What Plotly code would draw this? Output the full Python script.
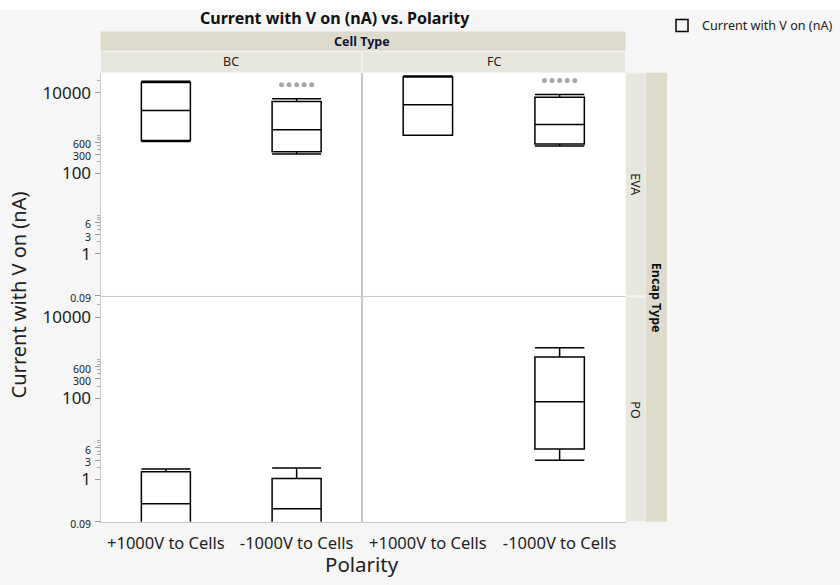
import numpy as np
import plotly.graph_objects as go

W, H = 840, 585

# ---------------- data ----------------
polarity = ["+1000V to Cells", "-1000V to Cells"]
cell_types = ["BC", "FC"]
encap_types = ["EVA", "PO"]

# EVA / BC
eva_bc_pos = [0, 1]
eva_bc_low = [620, 302]
eva_bc_q1 = [655, 344]
eva_bc_med = [3690, 1217]
eva_bc_q3 = [18300, 6120]
eva_bc_high = [19500, 7130]
eva_bc_out_pos = [1, 1, 1, 1, 1]
eva_bc_out = [15900, 15900, 15900, 15900, 15900]

# EVA / FC
eva_fc_pos = [0, 1]
eva_fc_low = [883, 483]
eva_fc_q1 = [883, 541]
eva_fc_med = [5080, 1645]
eva_fc_q3 = [25100, 7850]
eva_fc_high = [26500, 9100]
eva_fc_out_pos = [1, 1, 1, 1, 1]
eva_fc_out = [20500, 20500, 20500, 20500, 20500]

# PO / BC
po_bc_pos = [0, 1]
po_bc_low = [0.02, 0.02]
po_bc_q1 = [0.04, 0.035]
po_bc_med = [0.251, 0.19]
po_bc_q3 = [1.55, 1.05]
po_bc_high = [1.81, 1.91]

# PO / FC
po_fc_pos = [1]
po_fc_low = [2.95]
po_fc_q1 = [5.6]
po_fc_med = [82.6]
po_fc_q3 = [1047]
po_fc_high = [1770]

y_tickvals = [0.09, 1, 3, 6, 100, 300, 600, 10000]
y_ticktext = ["0.09", "1", "3", "6", "100", "300", "600", "10000"]
y_small = {"0.09", "3", "6", "300", "600"}
y_minor = [2, 4, 5, 7, 8, 9, 200, 400, 500, 700, 800, 900, 20000]

# ---------------- helpers ----------------
def px(x):
    return x / W

def py(y):
    return 1 - y / H

FONT = "Noto Sans"
LINE = "#c8c8c8"

fig = go.Figure()

panels = [
    ("x", "y", eva_bc_pos, eva_bc_low, eva_bc_q1, eva_bc_med, eva_bc_q3, eva_bc_high, True),
    ("x2", "y2", eva_fc_pos, eva_fc_low, eva_fc_q1, eva_fc_med, eva_fc_q3, eva_fc_high, False),
    ("x3", "y3", po_bc_pos, po_bc_low, po_bc_q1, po_bc_med, po_bc_q3, po_bc_high, False),
    ("x4", "y4", po_fc_pos, po_fc_low, po_fc_q1, po_fc_med, po_fc_q3, po_fc_high, False),
]
for xa, ya, pos, lo, q1, med, q3, hi, leg in panels:
    fig.add_trace(go.Box(
        x=pos, q1=q1, median=med, q3=q3, lowerfence=lo, upperfence=hi,
        xaxis=xa, yaxis=ya, width=0.375, whiskerwidth=1,
        line=dict(color="black", width=1.5), fillcolor="rgba(255,255,255,0)",
        boxpoints=False, name="Current with V on (nA)", showlegend=leg,
        hoverinfo="skip",
    ))

jit = np.linspace(-0.115, 0.115, 5)
for xa, ya, opos, ovals in [("x", "y", eva_bc_out_pos, eva_bc_out),
                             ("x2", "y2", eva_fc_out_pos, eva_fc_out)]:
    fig.add_trace(go.Scatter(
        x=np.array(opos) + jit, y=ovals, xaxis=xa, yaxis=ya, mode="markers",
        marker=dict(color="#a8a8a8", size=5), showlegend=False, hoverinfo="skip",
    ))

# ---------------- layout ----------------
x_dom = {"BC": [px(100.5), px(362)], "FC": [px(362), px(625.5)]}
y_dom = {"EVA": [py(300.5), py(74)], "PO": [py(530), py(301.5)]}
yr = [np.log10(0.09), 4.5]

def xaxis(dom, anchor, labels):
    return dict(domain=dom, anchor=anchor, range=[-0.5, 1.5], tickmode="array",
                tickvals=[0, 1], ticktext=polarity, showticklabels=labels,
                showline=True, mirror=True, linecolor=LINE, linewidth=1,
                showgrid=False, zeroline=False, ticks="", ticklabelstandoff=6,
                tickfont=dict(family=FONT, size=16.5, color="#222"))

ticktext_html = [
    (f'<span style="font-size:10.5px">{t}</span>' if t in y_small else t)
    for t in y_ticktext
]

def yaxis(dom, anchor, labels):
    d = dict(domain=dom, anchor=anchor, type="log", range=yr,
             showline=True, mirror=True, linecolor=LINE, linewidth=1,
             showgrid=False, zeroline=False)
    if labels:
        d.update(tickmode="array", tickvals=y_tickvals, ticktext=ticktext_html,
                 ticks="outside", ticklen=5, tickcolor="#999", tickwidth=1,
                 tickfont=dict(family=FONT, size=17, color="#222"),
                 minor=dict(tickmode="array", tickvals=y_minor, ticks="outside",
                            ticklen=3, tickcolor="#aaa", tickwidth=1))
    else:
        d.update(showticklabels=False, ticks="")
    return d

fig.update_layout(
    width=W, height=H, margin=dict(l=0, r=0, t=0, b=0),
    paper_bgcolor="#f6f6f6", plot_bgcolor="white",
    font=dict(family=FONT, color="#222"),
    xaxis=xaxis(x_dom["BC"], "y", False),
    xaxis2=xaxis(x_dom["FC"], "y2", False),
    xaxis3=xaxis(x_dom["BC"], "y3", True),
    xaxis4=xaxis(x_dom["FC"], "y4", True),
    yaxis=yaxis(y_dom["EVA"], "x", True),
    yaxis2=yaxis(y_dom["EVA"], "x2", False),
    yaxis3=yaxis(y_dom["PO"], "x3", True),
    yaxis4=yaxis(y_dom["PO"], "x4", False),
    legend=dict(x=px(662), y=py(11), xanchor="left", yanchor="top",
                bgcolor="rgba(0,0,0,0)", font=dict(family=FONT, size=12.6, color="#222"),
                itemwidth=30),
    showlegend=True,
)

shapes = []
# white top band
shapes.append(dict(type="rect", xref="paper", yref="paper", x0=0, x1=1, y0=py(10), y1=1,
                   fillcolor="white", line=dict(width=0), layer="below"))
# strips
strip_dark = "#dcdbcc"
strip_light = "#e8e7de"
shapes.append(dict(type="rect", xref="paper", yref="paper", x0=px(100.5), x1=px(625.5),
                   y0=py(52), y1=py(32), fillcolor=strip_dark, line=dict(width=0)))
for ct in cell_types:
    shapes.append(dict(type="rect", xref="paper", yref="paper", x0=x_dom[ct][0], x1=x_dom[ct][1],
                       y0=py(73.5), y1=py(52), fillcolor=strip_light,
                       line=dict(width=1, color="#f6f6f6")))
for et in encap_types:
    shapes.append(dict(type="rect", xref="paper", yref="paper", x0=px(625.5), x1=px(646),
                       y0=y_dom[et][0], y1=y_dom[et][1], fillcolor=strip_light,
                       line=dict(width=1, color="#f6f6f6")))
shapes.append(dict(type="rect", xref="paper", yref="paper", x0=px(646), x1=px(667),
                   y0=py(530), y1=py(74), fillcolor=strip_dark, line=dict(width=0)))
fig.update_layout(shapes=shapes)

def note(text, x, y, size, color="#222", angle=0):
    return dict(text=text, x=x, y=y, xref="paper", yref="paper", showarrow=False,
                xanchor="center", yanchor="middle", textangle=angle,
                font=dict(family=FONT, size=size, color=color))

ann = []
ann.append(note("<b>Current with V on (nA) vs. Polarity</b>", px(335), py(18), 16, "#111"))
ann.append(note("<b>Cell Type</b>", px(362), py(42), 12.5, "#141438"))
for ct in cell_types:
    ann.append(note(ct, sum(x_dom[ct]) / 2, py(62.5), 12.5))
for et in encap_types:
    ann.append(note(et, px(636), sum(y_dom[et]) / 2, 12.5, angle=90))
ann.append(note("<b>Encap Type</b>", px(656.5), py(302), 12.5, "#111", angle=90))
ann.append(note("Current with V on (nA)", px(18), py(300), 20, angle=-90))
ann.append(note("Polarity", px(362), py(573), 20.5))
fig.update_layout(annotations=ann)

fig.write_html("out.html")
